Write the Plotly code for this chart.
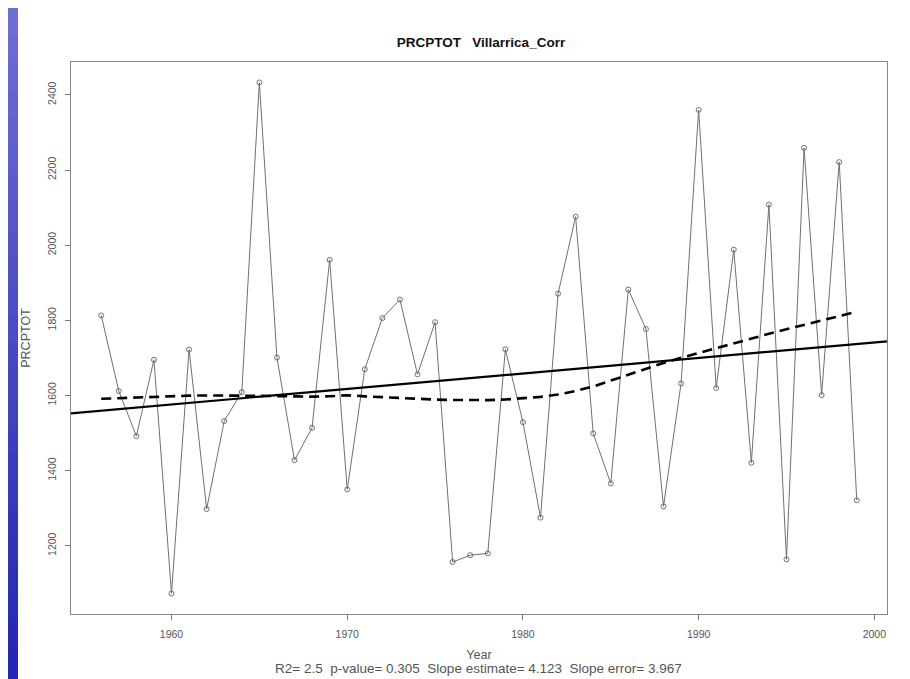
import numpy as np
import plotly.graph_objects as go

# ---- data ----
years = list(range(1956, 2000))
prcptot = [1813, 1612, 1492, 1695, 1073, 1722, 1298, 1532, 1609, 2433,
           1701, 1428, 1514, 1961, 1350, 1670, 1806, 1855, 1656, 1795,
           1157, 1175, 1180, 1723, 1529, 1275, 1871, 2076, 1499, 1366,
           1882, 1777, 1305, 1632, 2360, 1620, 1988, 1421, 2108, 1164,
           2259, 1601, 2221, 1321]
title_text = "PRCPTOT   Villarrica_Corr"
x_label = "Year"
y_label = "PRCPTOT"
stats_text = "R2= 2.5  p-value= 0.305  Slope estimate= 4.123  Slope error= 3.967"
slope_estimate = 4.123
x_ticks = [1960, 1970, 1980, 1990, 2000]
y_ticks = [1200, 1400, 1600, 1800, 2000, 2200, 2400]


def lowess(x, y, f=2 / 3, nsteps=3):
    x = np.asarray(x, float)
    y = np.asarray(y, float)
    n = len(x)
    ns = max(2, min(n, int(f * n + 1e-7)))
    rw = np.ones(n)
    ys = np.zeros(n)
    rng = x[-1] - x[0]
    for it in range(nsteps + 1):
        nleft, nright = 0, ns - 1
        for i in range(n):
            xs = x[i]
            while nright < n - 1 and xs - x[nleft] > x[nright + 1] - xs:
                nleft += 1
                nright += 1
            h = max(xs - x[nleft], x[nright] - xs)
            h9, h1 = 0.999 * h, 0.001 * h
            w = np.zeros(n)
            for j in range(nleft, n):
                r = abs(x[j] - xs)
                if r <= h9:
                    w[j] = 1.0 if r <= h1 else (1 - (r / h) ** 3) ** 3
                    if it > 0:
                        w[j] *= rw[j]
                elif x[j] > xs:
                    break
            a = w.sum()
            if a <= 0:
                ys[i] = y[i]
                continue
            w = w / a
            if h > 0:
                a = np.sum(w * x)
                b = xs - a
                c = np.sum(w * (x - a) ** 2)
                if np.sqrt(c) > 0.001 * rng:
                    b /= c
                    w = w * (b * (x - a) + 1)
            ys[i] = np.sum(w * y)
        if it == nsteps:
            break
        res = np.abs(y - ys)
        cmad = 6 * np.median(res)
        if cmad < 1e-7 * np.mean(res):
            break
        c9, c1 = 0.999 * cmad, 0.001 * cmad
        rw = np.where(res <= c1, 1.0,
                      np.where(res <= c9, (1 - (res / cmad) ** 2) ** 2, 0.0))
    return ys


yrs = np.array(years, float)
vals = np.array(prcptot, float)
smooth = lowess(yrs, vals)

# axis ranges (R style 4% expansion)
xr = [yrs.min() - 0.04 * (yrs.max() - yrs.min()), yrs.max() + 0.04 * (yrs.max() - yrs.min())]
yr = [vals.min() - 0.04 * (vals.max() - vals.min()), vals.max() + 0.04 * (vals.max() - vals.min())]

# regression line (OLS passes through the means) with the reported slope
xm, ym = yrs.mean(), vals.mean()
trend_x = xr
trend_y = [ym + slope_estimate * (xv - xm) for xv in trend_x]

fig = go.Figure()
fig.add_trace(go.Scatter(
    x=years, y=prcptot, mode="lines+markers",
    line=dict(color="#707070", width=1),
    marker=dict(symbol="circle-open", size=5, color="#707070", line=dict(width=1)),
    showlegend=False, hoverinfo="x+y"))
fig.add_trace(go.Scatter(
    x=trend_x, y=trend_y, mode="lines",
    line=dict(color="black", width=2.2), showlegend=False))
fig.add_trace(go.Scatter(
    x=years, y=smooth, mode="lines",
    line=dict(color="black", width=2.6, dash="10px,6px"), showlegend=False))

# the page body has an 8px margin: work in screen pixels and shift
OFF = 8
W, H = 910 - OFF, 679 - OFF
S_LEFT, S_RIGHT, S_TOP, S_BOTTOM = 71, 887, 62, 614
ml, mr = S_LEFT - OFF, W - (S_RIGHT - OFF)
mt, mb = S_TOP - OFF, H - (S_BOTTOM - OFF)
pw, ph = W - ml - mr, H - mt - mb


def sx(p):  # screen x pixel -> paper
    return (p - OFF - ml) / pw


def sy(p):  # screen y pixel -> paper
    return (H - mb - (p - OFF)) / ph


shapes = []
# left blue strip with vertical gradient
nb = 24
for k in range(nb):
    t = k / (nb - 1)
    r = int(110 - 72 * t)
    g = int(110 - 72 * t)
    b = int(212 - 34 * t)
    shapes.append(dict(type="rect", xref="paper", yref="paper",
                       x0=sx(OFF - 4), x1=sx(18),
                       y0=sy(OFF + k * H / nb - 1), y1=sy(OFF + (k + 1) * H / nb + 1),
                       fillcolor=f"rgb({r},{g},{b})", line=dict(width=0), layer="below"))

FONT = "Liberation Sans, Arial, sans-serif"
axis_font = dict(family=FONT, size=10.5, color="#555555")

fig.update_layout(
    width=W, height=H,
    margin=dict(l=ml, r=mr, t=mt, b=mb),
    paper_bgcolor="white", plot_bgcolor="white",
    shapes=shapes,
    title=dict(text="<b>" + title_text + "</b>", x=(481 - OFF) / W, xanchor="center",
               y=1 - (42 - OFF) / H, yanchor="middle",
               font=dict(family=FONT, size=13.5, color="#111111")),
    xaxis=dict(range=xr, tickvals=x_ticks, ticks="outside", ticklen=5, tickcolor="#777777",
               showgrid=False, zeroline=False, showline=True, linecolor="#888888",
               linewidth=1.2, mirror=True, tickfont=axis_font, ticklabelstandoff=5,
               title=dict(text=x_label, standoff=11,
                          font=dict(family=FONT, size=12.5, color="#555555"))),
    yaxis=dict(range=yr, tickvals=y_ticks, ticks="outside", ticklen=5, tickcolor="#777777",
               showgrid=False, zeroline=False, showline=True, linecolor="#888888",
               linewidth=1.2, mirror=True, tickfont=axis_font, tickangle=-90,
               ticklabelstandoff=5,
               title=dict(text=y_label, standoff=12,
                          font=dict(family=FONT, size=12.5, color="#555555"))),
    annotations=[dict(text=stats_text, xref="paper", yref="paper",
                      x=sx(478), y=sy(668), xanchor="center", yanchor="middle",
                      showarrow=False,
                      font=dict(family=FONT, size=13.5, color="#555555"))],
)

fig.write_html("out.html")
